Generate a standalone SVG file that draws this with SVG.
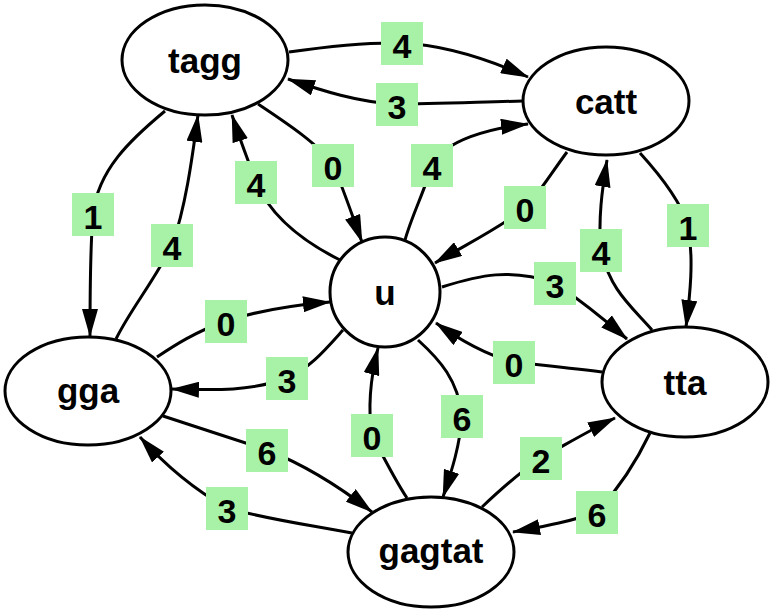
<svg xmlns="http://www.w3.org/2000/svg" width="772" height="610" viewBox="0 0 772 610">
<style>
.node ellipse, .node circle { fill: #ffffff; stroke: #000000; stroke-width: 3; }
.node text { font-family: "Liberation Sans", Arial, sans-serif; font-weight: bold; font-size: 35px; text-anchor: middle; fill: #000000; }
.edge path { fill: none; stroke: #000000; stroke-width: 3; marker-end: url(#arrow); }
.lbl rect { fill: #a8f2a8; stroke: none; }
.lbl text { font-family: "Liberation Sans", Arial, sans-serif; font-weight: bold; font-size: 34px; text-anchor: middle; fill: #000000; }
</style>
<defs>
<marker id="arrow" markerUnits="userSpaceOnUse" markerWidth="28" markerHeight="16" refX="27" refY="8" orient="auto">
<path d="M0,0 L28,8 L0,16 z" fill="#000000"/>
</marker>
</defs>
<rect width="772" height="610" fill="#ffffff"/>
<g id="connectors">
<g class="edge"><path d="M289,52 C330,46 365,42 402,43 C445,45 490,60 528,77"/></g>
<g class="edge"><path d="M523,101 C480,102 430,104 397,104 C360,103 320,90 288,79"/></g>
<g class="edge"><path d="M258,104 C285,122 320,145 333,165 C342,185 352,215 362,242"/></g>
<g class="edge"><path d="M340,260 C300,240 270,215 256,182 C248,160 240,140 232,115"/></g>
<g class="edge"><path d="M405,240 C412,215 425,190 432,165 C445,140 490,128 528,124"/></g>
<g class="edge"><path d="M567,152 C550,175 538,195 525,208 C500,228 465,245 435,263"/></g>
<g class="edge"><path d="M165,111 C130,140 98,170 93,214 C90,250 90,300 90,336"/></g>
<g class="edge"><path d="M116,339 C130,310 155,280 172,245 C185,210 192,160 198,115"/></g>
<g class="edge"><path d="M640,153 C660,175 680,200 688,225 C694,260 690,295 686,327"/></g>
<g class="edge"><path d="M652,330 C630,305 610,290 601,250 C598,220 602,190 607,160"/></g>
<g class="edge"><path d="M157,357 C175,345 195,332 226,321 C260,310 295,305 330,302"/></g>
<g class="edge"><path d="M343,330 C325,350 310,368 287,378 C250,392 210,390 172,389"/></g>
<g class="edge"><path d="M442,287 C480,275 510,268 555,283 C580,300 605,320 627,339"/></g>
<g class="edge"><path d="M602,372 C570,368 540,365 514,362 C485,355 460,340 436,323"/></g>
<g class="edge"><path d="M407,498 C395,480 385,460 372,435 C368,410 370,380 378,348"/></g>
<g class="edge"><path d="M418,340 C440,360 458,380 462,416 C460,445 452,470 443,497"/></g>
<g class="edge"><path d="M163,416 C200,428 230,438 267,450 C305,465 340,487 372,512"/></g>
<g class="edge"><path d="M352,533 C310,525 270,520 227,508 C195,490 165,465 140,437"/></g>
<g class="edge"><path d="M482,507 C500,490 520,472 541,458 C565,445 590,430 615,418"/></g>
<g class="edge"><path d="M650,433 C638,458 622,485 597,512 C570,522 540,527 513,532"/></g>
</g>
<g id="labels">
<g class="lbl"><rect x="381" y="22" width="42" height="43"/><text x="402" y="58">4</text></g>
<g class="lbl"><rect x="376" y="83" width="42" height="43"/><text x="397" y="119">3</text></g>
<g class="lbl"><rect x="312" y="144" width="42" height="43"/><text x="333" y="180">0</text></g>
<g class="lbl"><rect x="235" y="161" width="42" height="43"/><text x="256" y="197">4</text></g>
<g class="lbl"><rect x="411" y="144" width="42" height="43"/><text x="432" y="180">4</text></g>
<g class="lbl"><rect x="504" y="186" width="42" height="43"/><text x="525" y="222">0</text></g>
<g class="lbl"><rect x="72" y="193" width="42" height="43"/><text x="93" y="229">1</text></g>
<g class="lbl"><rect x="151" y="224" width="42" height="43"/><text x="172" y="260">4</text></g>
<g class="lbl"><rect x="667" y="204" width="42" height="43"/><text x="688" y="240">1</text></g>
<g class="lbl"><rect x="580" y="229" width="42" height="43"/><text x="601" y="265">4</text></g>
<g class="lbl"><rect x="205" y="300" width="42" height="43"/><text x="226" y="336">0</text></g>
<g class="lbl"><rect x="266" y="357" width="42" height="43"/><text x="287" y="393">3</text></g>
<g class="lbl"><rect x="534" y="262" width="42" height="43"/><text x="555" y="298">3</text></g>
<g class="lbl"><rect x="493" y="341" width="42" height="43"/><text x="514" y="377">0</text></g>
<g class="lbl"><rect x="351" y="414" width="42" height="43"/><text x="372" y="450">0</text></g>
<g class="lbl"><rect x="441" y="395" width="42" height="43"/><text x="462" y="431">6</text></g>
<g class="lbl"><rect x="246" y="429" width="42" height="43"/><text x="267" y="465">6</text></g>
<g class="lbl"><rect x="206" y="487" width="42" height="43"/><text x="227" y="523">3</text></g>
<g class="lbl"><rect x="520" y="437" width="42" height="43"/><text x="541" y="473">2</text></g>
<g class="lbl"><rect x="576" y="491" width="42" height="43"/><text x="597" y="527">6</text></g>
</g>
<g id="node-tagg" class="node"><ellipse cx="205" cy="60" rx="83" ry="55"/><text x="205" y="73">tagg</text></g>
<g id="node-catt" class="node"><ellipse cx="606" cy="101" rx="83" ry="54"/><text x="606" y="114">catt</text></g>
<g id="node-u" class="node"><circle cx="385" cy="292" r="55"/><text x="385" y="305">u</text></g>
<g id="node-gga" class="node"><ellipse cx="88" cy="391" rx="83" ry="54"/><text x="88" y="403">gga</text></g>
<g id="node-tta" class="node"><ellipse cx="685" cy="382" rx="83" ry="55"/><text x="685" y="395">tta</text></g>
<g id="node-gagtat" class="node"><ellipse cx="431" cy="552" rx="83" ry="55"/><text x="431" y="563">gagtat</text></g>
</svg>
